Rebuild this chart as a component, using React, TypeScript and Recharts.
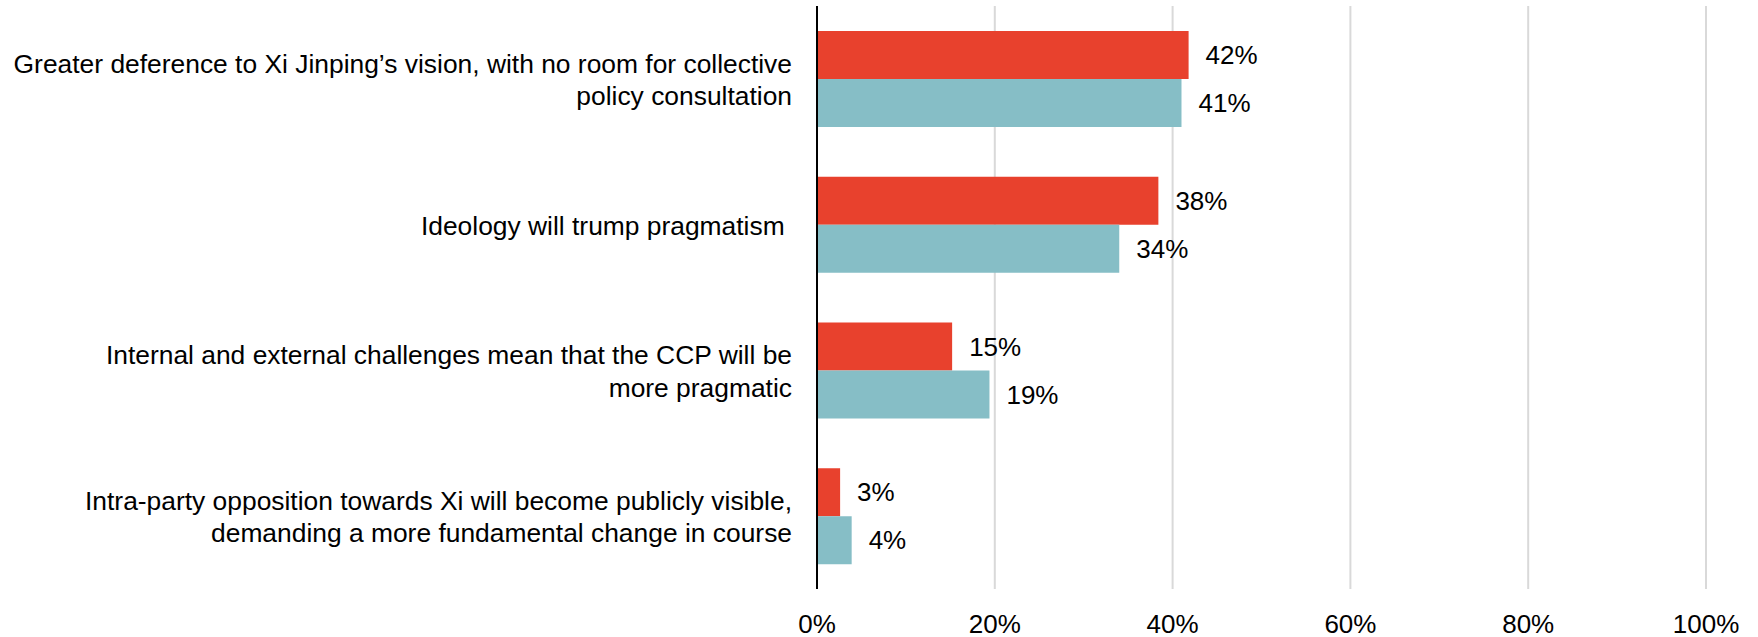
import { Bar, BarChart, CartesianGrid, LabelList, XAxis, YAxis } from "recharts";

const categories = [
  ["Greater deference to Xi Jinping’s vision, with no room for collective", "policy consultation"],
  ["Ideology will trump pragmatism "],
  ["Internal and external challenges mean that the CCP will be", "more pragmatic"],
  ["Intra-party opposition towards Xi will become publicly visible,", "demanding a more fundamental change in course"],
];
const redValues = [41.8, 38.4, 15.2, 2.6];
const tealValues = [41.0, 34.0, 19.4, 3.9];
const redLabels = ["42%", "38%", "15%", "3%"];
const tealLabels = ["41%", "34%", "19%", "4%"];
const xTicks = [0, 20, 40, 60, 80, 100];

const RED = "#e8412d";
const TEAL = "#86bec6";
const FONT = "'Liberation Sans', Arial, sans-serif";

const data = categories.map((lines, i) => ({
  key: String(i),
  red: redValues[i],
  teal: tealValues[i],
  redLabel: redLabels[i],
  tealLabel: tealLabels[i],
}));

function CategoryTick(props: any) {
  const { x, y, payload } = props;
  const lines = categories[Number(payload.value)] || [];
  const lh = 32.5;
  const first = y - ((lines.length - 1) * lh) / 2 + 10;
  return (
    <text x={x - 23} y={first} textAnchor="end" fontSize={26.4} fontFamily={FONT} fill="#000">
      {lines.map((l, i) => (
        <tspan key={i} x={x - 23} y={first + i * lh} style={{ whiteSpace: "pre" }}>
          {l}
        </tspan>
      ))}
    </text>
  );
}

function PercentTick(props: any) {
  const { x, y, payload } = props;
  return (
    <text x={x} y={y + 42} textAnchor="middle" fontSize={26} fontFamily={FONT} fill="#000">
      {payload.value}%
    </text>
  );
}

export default function App() {
  return (
    <div style={{ position: "absolute", left: 0, top: 0, background: "#fff" }}>
      <BarChart
        width={1758}
        height={637}
        data={data}
        layout="vertical"
        margin={{ top: 6, right: 52, left: 0, bottom: 0 }}
        barGap={0}
        barSize={48}
      >
        <CartesianGrid horizontal={false} stroke="#d9d9d9" strokeWidth={2} />
        <XAxis
          type="number"
          domain={[0, 100]}
          ticks={xTicks}
          axisLine={false}
          tickLine={false}
          tickSize={0}
          tick={<PercentTick />}
          height={48}
        />
        <YAxis
          type="category"
          dataKey="key"
          width={817}
          axisLine={{ stroke: "#000", strokeWidth: 2 }}
          tickLine={false}
          tickSize={0}
          tick={<CategoryTick />}
        />
        <Bar dataKey="red" fill={RED} isAnimationActive={false}>
          <LabelList
            dataKey="redLabel"
            position="right"
            offset={17}
            fontSize={26}
            fontFamily={FONT}
            fill="#000"
          />
        </Bar>
        <Bar dataKey="teal" fill={TEAL} isAnimationActive={false}>
          <LabelList
            dataKey="tealLabel"
            position="right"
            offset={17}
            fontSize={26}
            fontFamily={FONT}
            fill="#000"
          />
        </Bar>
      </BarChart>
    </div>
  );
}
